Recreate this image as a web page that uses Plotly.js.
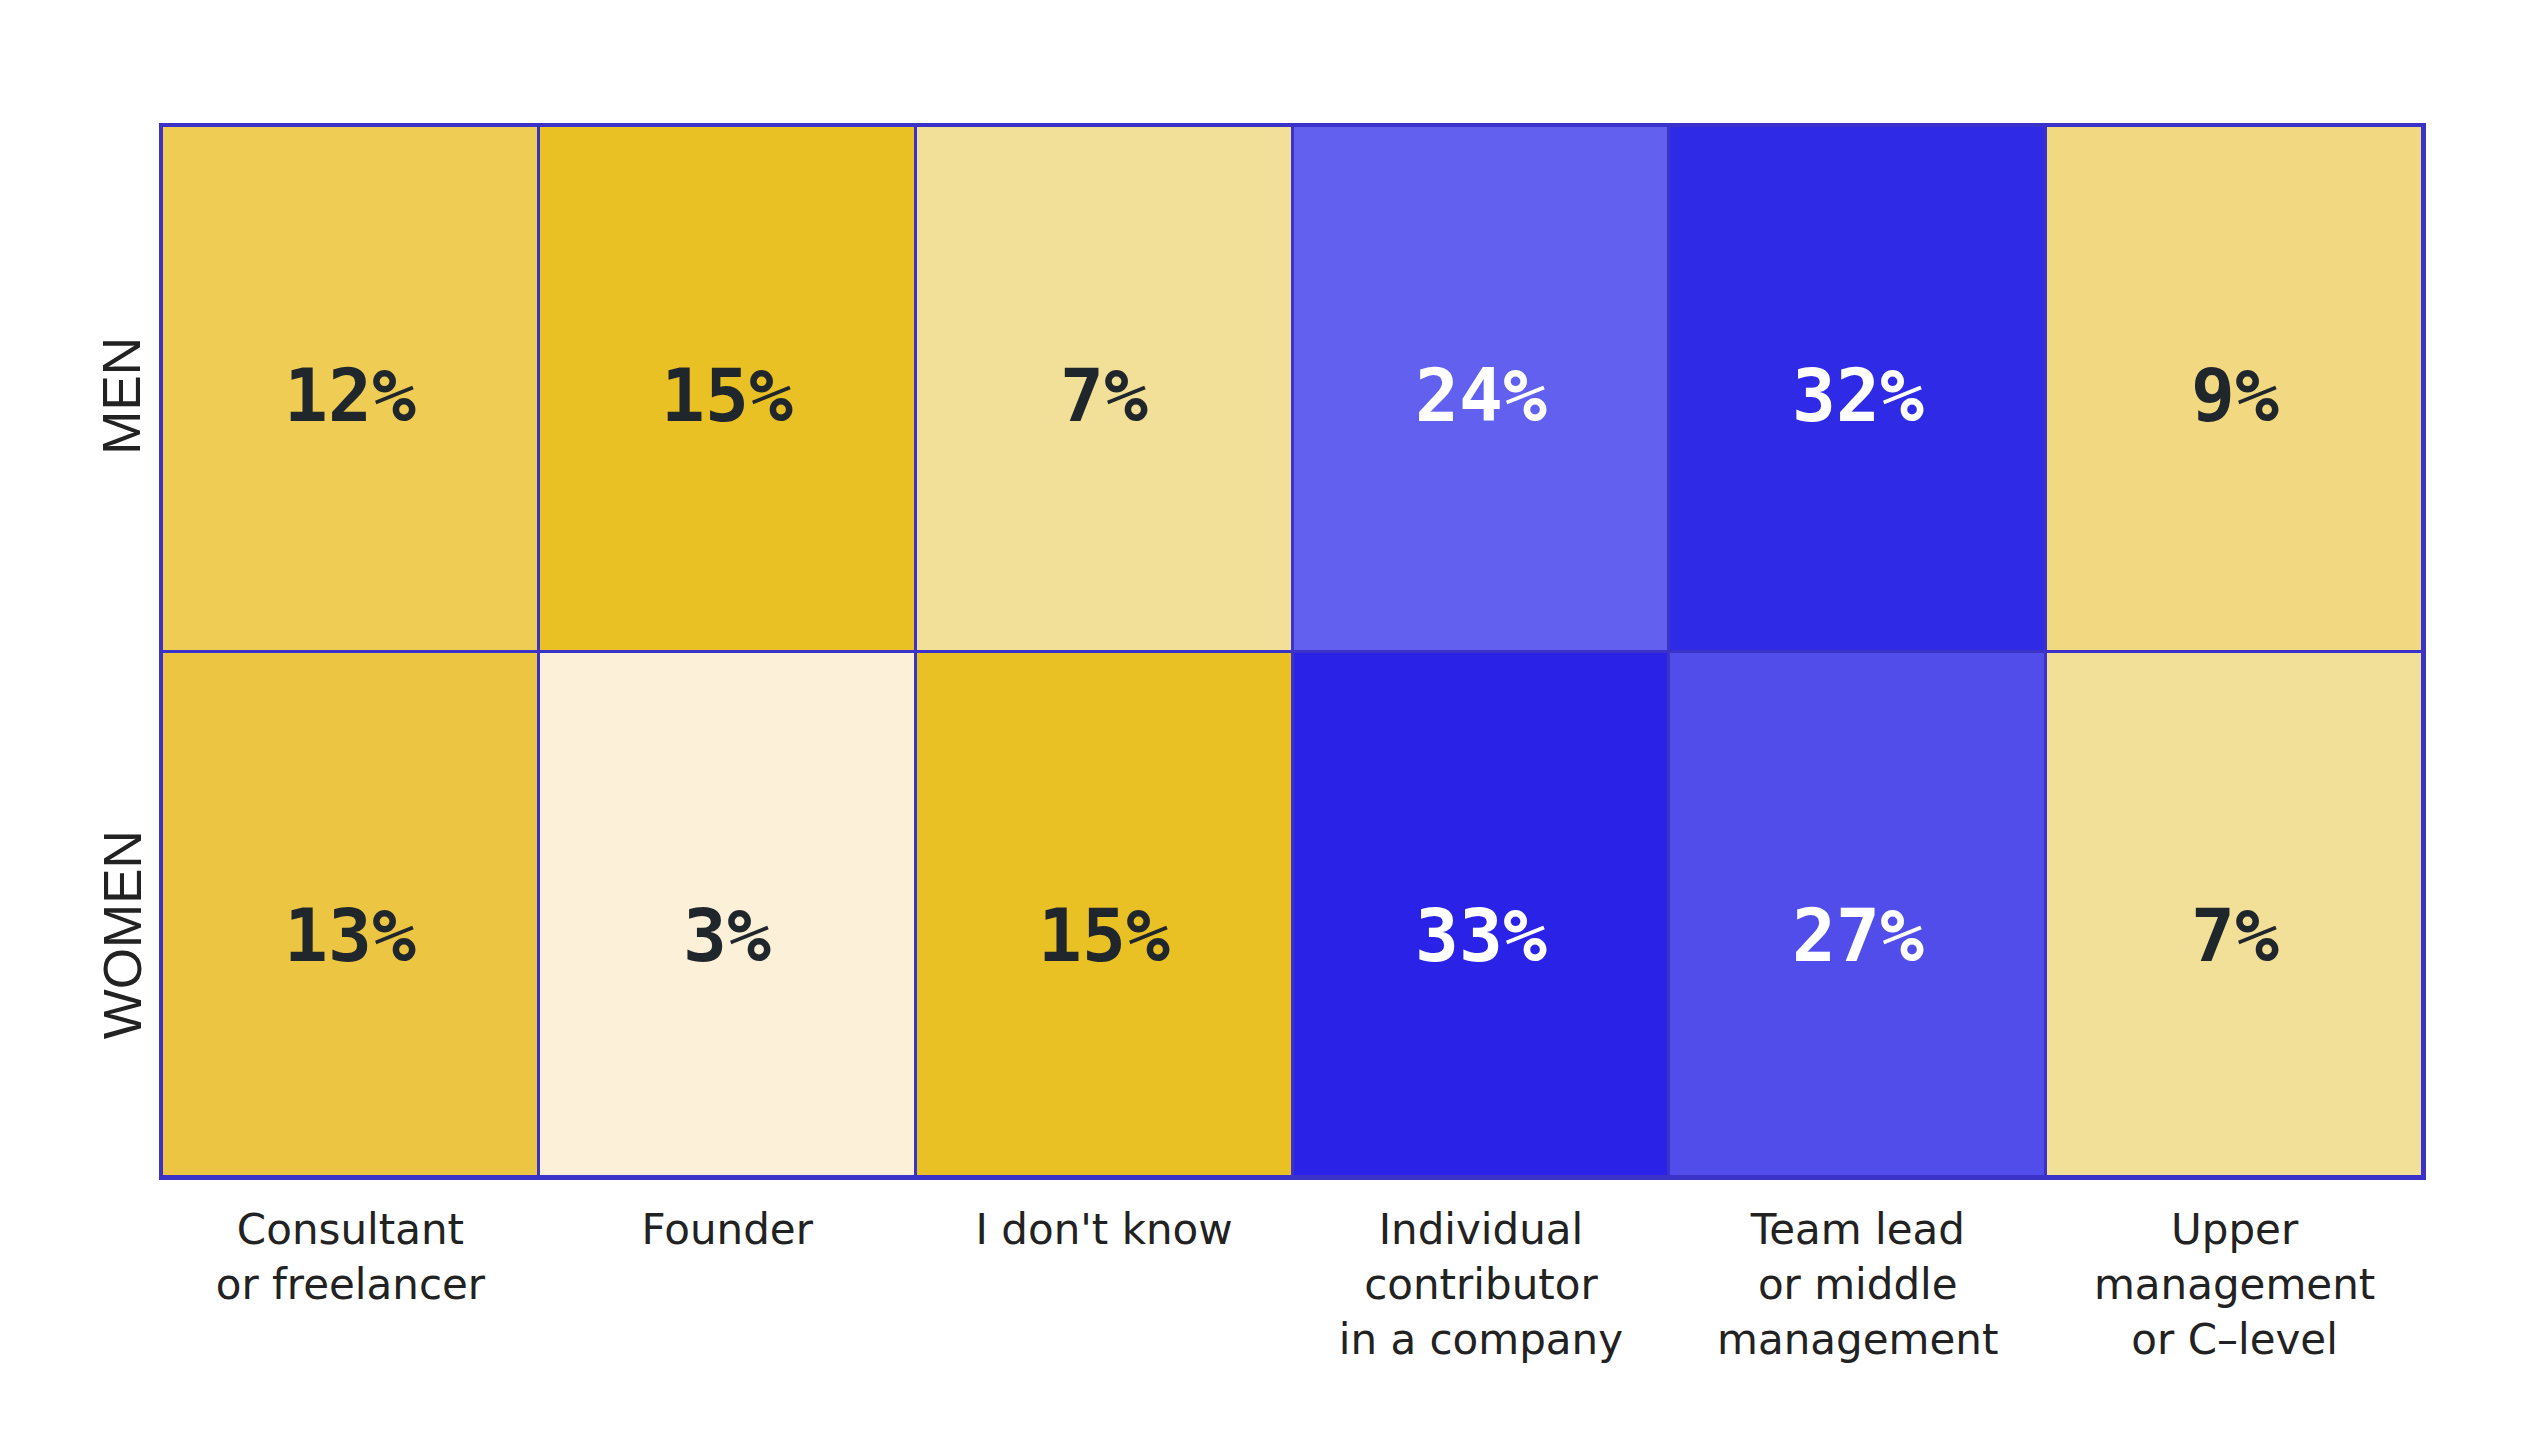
<!DOCTYPE html>
<html>
<head>
<meta charset="utf-8">
<script src="https://cdn.plot.ly/plotly-3.0.1.min.js"></script>
<style>html,body{margin:0;padding:0;background:#fff;}#chart{width:2541px;height:1431px;}</style>
</head>
<body>
<div id="chart"></div>
<script>
const categories = ["Consultant or freelancer", "Founder", "I don't know", "Individual contributor in a company", "Team lead or middle management", "Upper management or C-level"];
const tickLabels = ["Consultant<br>or freelancer", "Founder", "I don't know", "Individual<br>contributor<br>in a company", "Team lead<br>or middle<br>management", "Upper<br>management<br>or C\u2013level"];
const groups = ["MEN", "WOMEN"];
const men = [12, 15, 7, 24, 32, 9];
const women = [13, 3, 15, 33, 27, 7];

const z = [men, women];
const cmax = 33;
const stops = [
  [0, "#FFF8EA"], [3, "#FCF0D8"], [7, "#F2DF98"], [9, "#F2D981"], [12, "#EFCD54"],
  [13, "#ECC642"], [15, "#E9C125"], [16, "#E9C125"], [18, "#7472F2"], [24, "#6260EF"],
  [27, "#514DEA"], [32, "#2F2AE6"], [33, "#2A22E6"]
];
const colorscale = stops.map(s => [s[0] / cmax, s[1]]);

// vertical nudge of the text in each row (layout styling, pixels)
const rowTextShift = [-7, -21];
const borderColor = "#3B33C9";

const annotations = [];
groups.forEach((g, i) => {
  categories.forEach((c, j) => {
    annotations.push({
      x: c, y: g, xref: "x", yref: "y", text: z[i][j] + "%", showarrow: false,
      xanchor: "center", yanchor: "middle", yshift: rowTextShift[i],
      font: {family: "DejaVu Sans Mono", size: 73, weight: 700, color: z[i][j] >= 20 ? "#FFFFFF" : "#1F262C"}
    });
  });
  annotations.push({
    x: 0, xref: "paper", y: g, yref: "y", text: g, showarrow: false, textangle: -90,
    xanchor: "center", yanchor: "middle", xshift: -40, yshift: rowTextShift[i],
    font: {family: "Liberation Sans", size: 53, color: "#222222"}
  });
});

const heat = {
  type: "heatmap", x: categories, y: groups, z: z,
  colorscale: colorscale, zmin: 0, zmax: cmax, showscale: false,
  xgap: 3, ygap: 3, hoverinfo: "skip"
};

const layout = {
  width: 2541, height: 1431,
  margin: {l: 162, r: 118, t: 126, b: 254},
  paper_bgcolor: "#FFFFFF", plot_bgcolor: borderColor,
  showlegend: false,
  annotations: annotations,
  xaxis: {
    type: "category", tickvals: categories, ticktext: tickLabels,
    showgrid: false, zeroline: false, ticks: "", ticklabelstandoff: 14,
    showline: true, linecolor: borderColor, linewidth: 3, mirror: true,
    tickfont: {family: "DejaVu Sans", size: 42, color: "#222222"}
  },
  yaxis: {
    type: "category", autorange: "reversed", showticklabels: false,
    showgrid: false, zeroline: false, ticks: "",
    showline: true, linecolor: borderColor, linewidth: 3, mirror: true
  }
};

Plotly.newPlot("chart", [heat], layout, {displayModeBar: false, staticPlot: true});
</script>
</body>
</html>
